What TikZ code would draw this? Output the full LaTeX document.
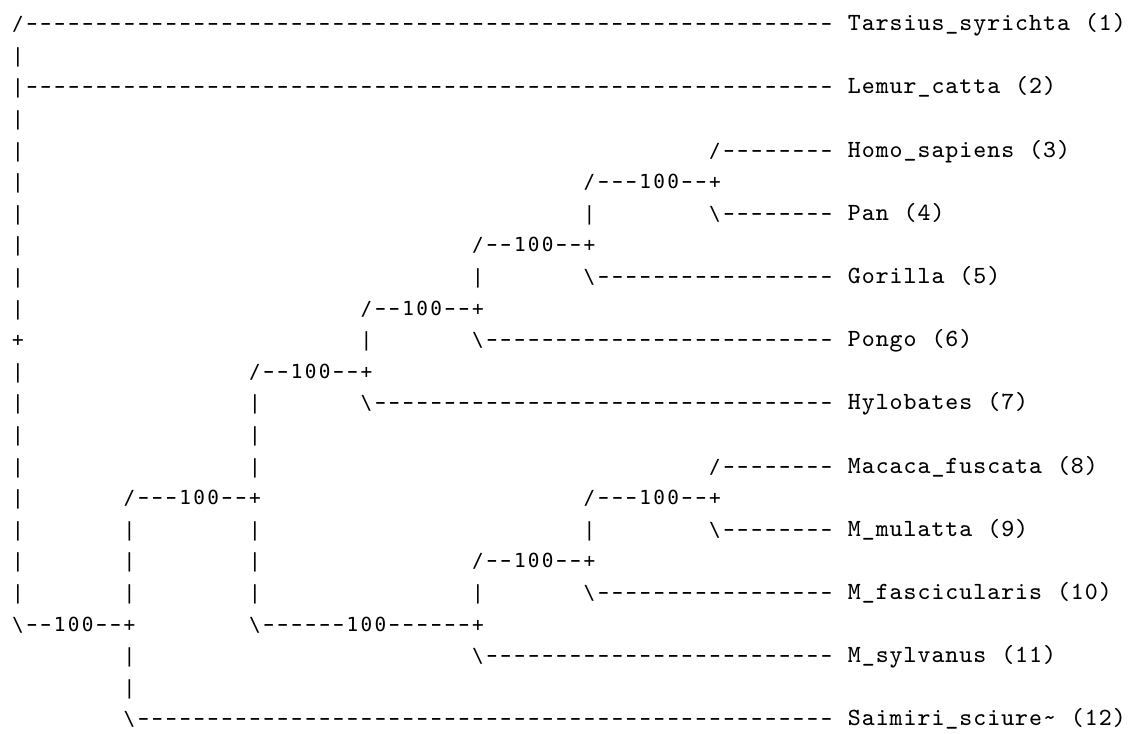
\documentclass[tikz,border=0pt]{standalone}
\usepackage{fontspec}
\usepackage{graphicx}
\newfontfamily\treefont{DejaVu Sans Mono}
\newlength\cw
\setlength\cw{5.25pt}
% one character per fixed cell, dashes a bit longer
\newcommand\trbox[1]{\makebox[\cw]{\ifx-#1\scalebox{1.7}[1.15]{-}\else#1\fi}}
\newcommand\trcells[1]{\trcellsi#1\relax}
\newcommand\trcellsi[1]{\ifx#1\relax\else\trbox{#1}\expandafter\trcellsi\fi}
\newcommand\trdash[1]{\foreach\k in {1,...,#1}{\trbox{-}}}
\begin{document}
\begin{tikzpicture}[x=5.25pt,y=-11.897pt,
    br/.style={anchor=base west,inner sep=0pt,font=\treefont\fontsize{7.3}{9}\selectfont},
    tx/.style={anchor=base west,inner sep=0pt,font=\ttfamily\fontsize{9.3}{11}\selectfont}]
    \useasboundingbox (-0.752,-0.975) rectangle (80.81,22.23);
    % root column
    \foreach \r in {1,3,4,5,6,7,8,9,11,12,13,14,15,16,17,18}
        \node[br] (r\r) at (0,\r) {\trcells{|}};
    \node[br] (b1) at (0,0) {\trcells{/}\trdash{58}};
    \node[br] (b2) at (0,2) {\trcells{|}\trdash{58}};
    \node[br] (root) at (0,10) {\trcells{+}};
    \node[br] (b12) at (0,19) {\trcells{\textbackslash--100--+}};
    % apes
    \node[br] (b3) at (50,4) {\trcells{/}\trdash{8}};
    \node[br] (j34) at (41,5) {\trcells{/---100--+}};
    \node[br] (v34) at (41,6) {\trcells{|}};
    \node[br] (b4) at (50,6) {\trcells{\textbackslash}\trdash{8}};
    \node[br] (j35) at (33,7) {\trcells{/--100--+}};
    \node[br] (v35) at (33,8) {\trcells{|}};
    \node[br] (b5) at (41,8) {\trcells{\textbackslash}\trdash{17}};
    \node[br] (j36) at (25,9) {\trcells{/--100--+}};
    \node[br] (v36) at (25,10) {\trcells{|}};
    \node[br] (b6) at (33,10) {\trcells{\textbackslash}\trdash{25}};
    \node[br] (j37) at (17,11) {\trcells{/--100--+}};
    \foreach \r in {12,13,14,16,17,18}
        \node[br] (u\r) at (17,\r) {\trcells{|}};
    \node[br] (b7) at (25,12) {\trcells{\textbackslash}\trdash{33}};
    % old world monkeys
    \node[br] (b8) at (50,14) {\trcells{/}\trdash{8}};
    \node[br] (j311) at (8,15) {\trcells{/---100--+}};
    \node[br] (j89) at (41,15) {\trcells{/---100--+}};
    \node[br] (v89) at (41,16) {\trcells{|}};
    \node[br] (b9) at (50,16) {\trcells{\textbackslash}\trdash{8}};
    \node[br] (j810) at (33,17) {\trcells{/--100--+}};
    \node[br] (v810) at (33,18) {\trcells{|}};
    \node[br] (b10) at (41,18) {\trcells{\textbackslash}\trdash{17}};
    \node[br] (j811) at (17,19) {\trcells{\textbackslash------100------+}};
    \node[br] (b11) at (33,20) {\trcells{\textbackslash}\trdash{25}};
    \foreach \r in {16,17,18,20,21}
        \node[br] (w\r) at (8,\r) {\trcells{|}};
    \node[br] (b12s) at (8,22) {\trcells{\textbackslash}\trdash{50}};
    % taxa
    \node[tx] (t1) at (60,0) {\trcells{Tarsius\_syrichta~(1)}};
    \node[tx] (t2) at (60,2) {\trcells{Lemur\_catta~(2)}};
    \node[tx] (t3) at (60,4) {\trcells{Homo\_sapiens~(3)}};
    \node[tx] (t4) at (60,6) {\trcells{Pan~(4)}};
    \node[tx] (t5) at (60,8) {\trcells{Gorilla~(5)}};
    \node[tx] (t6) at (60,10) {\trcells{Pongo~(6)}};
    \node[tx] (t7) at (60,12) {\trcells{Hylobates~(7)}};
    \node[tx] (t8) at (60,14) {\trcells{Macaca\_fuscata~(8)}};
    \node[tx] (t9) at (60,16) {\trcells{M\_mulatta~(9)}};
    \node[tx] (t10) at (60,18) {\trcells{M\_fascicularis~(10)}};
    \node[tx] (t11) at (60,20) {\trcells{M\_sylvanus~(11)}};
    \node[tx] (t12) at (60,22) {\trcells{Saimiri\_sciure\textasciitilde~(12)}};
\end{tikzpicture}
\end{document}
